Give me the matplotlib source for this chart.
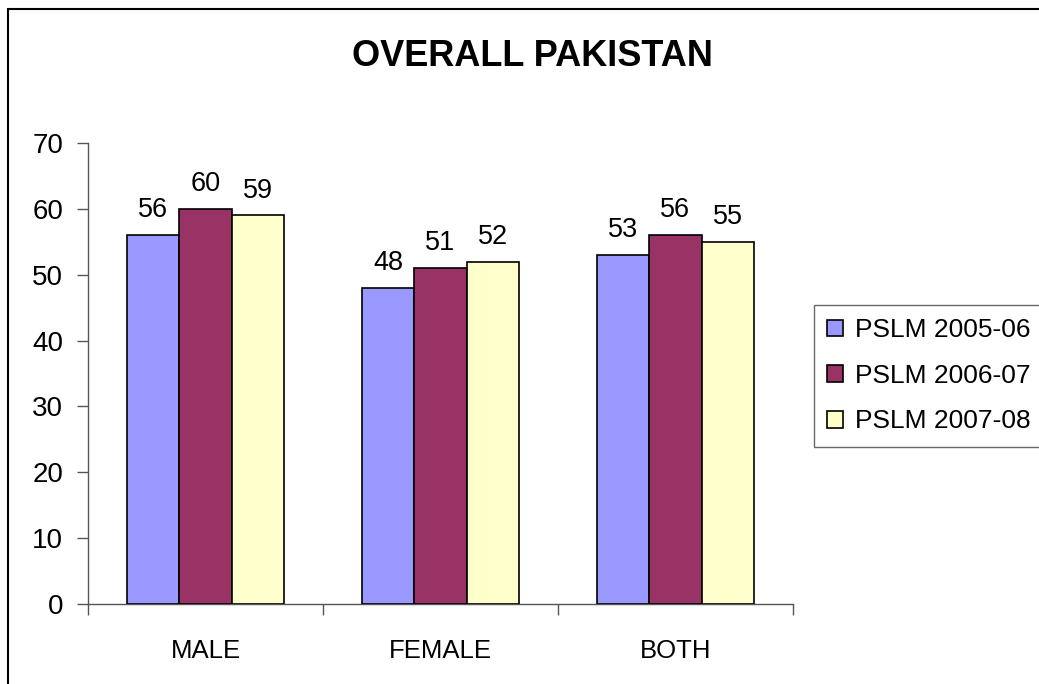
import matplotlib
matplotlib.use("Agg")
import matplotlib.pyplot as plt
from matplotlib.patches import Rectangle
import numpy as np

plt.rcParams['font.family'] = ['Liberation Sans', 'DejaVu Sans']

categories = ["MALE", "FEMALE", "BOTH"]
series_names = ["PSLM 2005-06", "PSLM 2006-07", "PSLM 2007-08"]
v2005 = [56, 48, 53]
v2006 = [60, 51, 56]
v2007 = [59, 52, 55]
colors = ["#9999FF", "#993366", "#FFFFCC"]
yticks = [0, 10, 20, 30, 40, 50, 60, 70]

fig = plt.figure(figsize=(10.39, 6.84), dpi=100)
ax = fig.add_axes([88/1039, 80/684, (793-88)/1039, (604-143)/684])

x = np.arange(len(categories))
w = 0.2225
for i, (vals, name, c) in enumerate(zip([v2005, v2006, v2007], series_names, colors)):
    bars = ax.bar(x + (i - 1) * w, vals, w, color=c, edgecolor="black", linewidth=1.2, label=name, zorder=3)
    for b, v in zip(bars, vals):
        ax.annotate(f"{v}", (b.get_x() + b.get_width() / 2, v), xytext=(0, 8.5),
                    textcoords="offset points", ha="center", va="bottom", fontsize=19.5)

ax.set_xlim(-0.5, 2.5)
ax.set_ylim(0, 70)
ax.set_yticks(yticks)
ax.set_xticks(x)
ax.set_xticklabels(categories)
ax.set_xticks([-0.5, 0.5, 1.5, 2.5], minor=True)
ax.tick_params(axis="x", which="major", length=0, pad=25, labelsize=18.5)
ax.tick_params(axis="x", which="minor", length=8, color="#555555", width=1)
ax.tick_params(axis="y", length=8, color="#555555", width=1, pad=10, labelsize=20)
for s in ["top", "right"]:
    ax.spines[s].set_visible(False)
for s in ["left", "bottom"]:
    ax.spines[s].set_color("#555555")
    ax.spines[s].set_linewidth(1)

fig.text(532/1039, 1 - 56/684, "OVERALL PAKISTAN", ha="center", va="center",
         fontsize=26, fontweight="bold")

leg = ax.legend(loc="upper left", bbox_to_anchor=(814/1039, 1 - 305/684),
                bbox_transform=fig.transFigure, fontsize=19, frameon=True,
                fancybox=False, edgecolor="#444444", handlelength=0.6,
                handleheight=0.6, handletextpad=0.45, labelspacing=0.82,
                borderpad=0.5, borderaxespad=0)
leg.get_frame().set_linewidth(1)

fig.patches.append(Rectangle((8/1039, -0.1), 1.2, 1 - 9/684 + 0.1,
                             transform=fig.transFigure, fill=False,
                             edgecolor="black", linewidth=1.5))

fig.savefig("out.png", dpi=100)
